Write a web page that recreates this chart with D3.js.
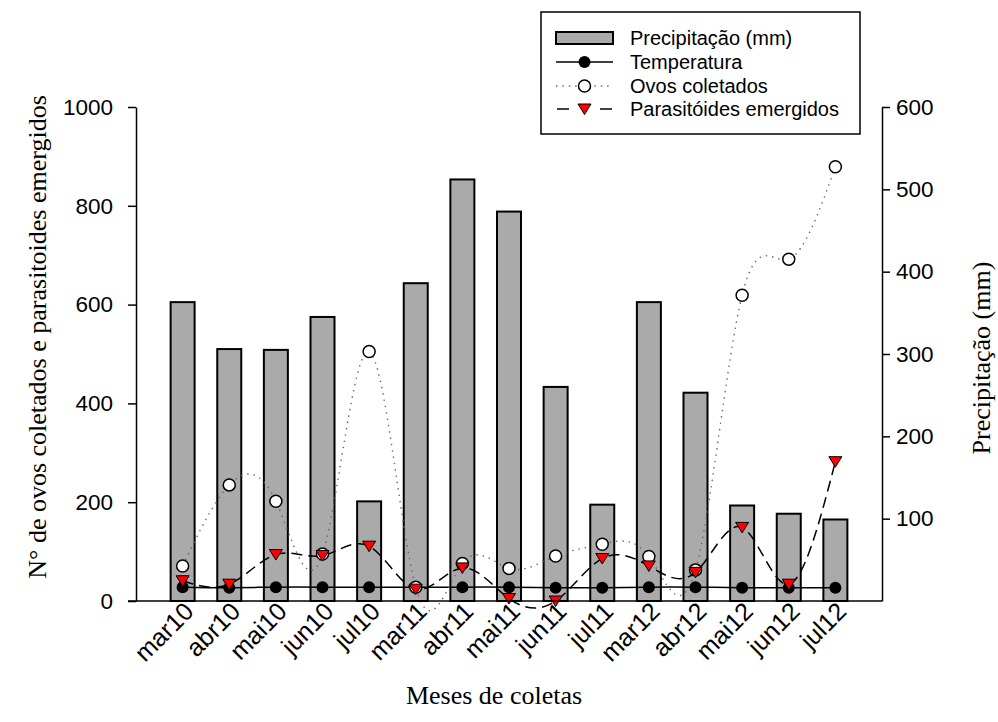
<!DOCTYPE html>
<html>
<head>
<meta charset="utf-8">
<script src="https://cdn.jsdelivr.net/npm/d3@7"></script>
<style>
  html, body { margin: 0; padding: 0; background: #fff; }
  svg { display: block; }
</style>
</head>
<body>
<script>
// ---- data ----
const months = ["mar10","abr10","mai10","jun10","jul10","mar11","abr11","mai11","jun11","jul11","mar12","abr12","mai12","jun12","jul12"];
const precipitacao = [363, 306, 305, 345, 121, 386, 512, 473, 260, 117, 363, 253, 116, 106, 99];
const temperatura  = [28, 27, 28, 28, 28, 28, 28, 28, 27, 27, 28, 28, 27, 27, 27];
const ovos         = [71, 235, 202, 95, 505, 28, 76, 66, 91, 115, 90, 63, 619, 692, 879];
const parasitoides = [41, 34, 94, 92, 111, 24, 67, 5, 0, 86, 71, 58, 149, 34, 282];
const leftTicks  = [0, 200, 400, 600, 800, 1000];
const rightTicks = [100, 200, 300, 400, 500, 600];
const legendLabels = ["Precipitação (mm)", "Temperatura", "Ovos coletados", "Parasitóides emergidos"];

const W = 998, H = 722;
const L = 136, R = 882, T = 107, B = 601;
const sans = "'Liberation Sans', Arial, sans-serif";
const serif = "'Liberation Serif', 'Times New Roman', serif";

const svg = d3.select("body").append("svg").attr("width", W).attr("height", H);

const x = d3.scalePoint().domain(months).range([L, R]).padding(1);
const yL = d3.scaleLinear().domain([0, 1000]).range([B, T]);
const yR = d3.scaleLinear().domain([0, 600]).range([B, T]);

// bars
const bw = 24;
svg.append("g").selectAll("rect").data(months).join("rect")
  .attr("x", d => x(d) - bw / 2)
  .attr("y", (d, i) => yR(precipitacao[i]))
  .attr("width", bw)
  .attr("height", (d, i) => yR(0) - yR(precipitacao[i]))
  .attr("fill", "#aaaaaa").attr("stroke", "#000").attr("stroke-width", 2);

// lines
const line = d3.line().x(d => x(d[0])).y(d => yL(d[1])).curve(d3.curveNatural);
const pts = arr => months.map((m, i) => [m, arr[i]]);

svg.append("path").datum(pts(temperatura)).attr("d", line)
  .attr("fill", "none").attr("stroke", "#000").attr("stroke-width", 1.5);
svg.append("path").datum(pts(ovos)).attr("d", line)
  .attr("fill", "none").attr("stroke", "#666").attr("stroke-width", 1.4)
  .attr("stroke-dasharray", "1.4,5");
svg.append("path").datum(pts(parasitoides)).attr("d", line)
  .attr("fill", "none").attr("stroke", "#000").attr("stroke-width", 1.5)
  .attr("stroke-dasharray", "11,6");

// markers
svg.append("g").selectAll("circle").data(pts(temperatura)).join("circle")
  .attr("cx", d => x(d[0])).attr("cy", d => yL(d[1])).attr("r", 6)
  .attr("fill", "#000");
svg.append("g").selectAll("circle").data(pts(ovos)).join("circle")
  .attr("cx", d => x(d[0])).attr("cy", d => yL(d[1])).attr("r", 6)
  .attr("fill", "#fff").attr("stroke", "#000").attr("stroke-width", 1.5);
const tri = "M-6.5,-5L6.5,-5L0,5.5Z";
svg.append("g").selectAll("path").data(pts(parasitoides)).join("path")
  .attr("d", tri)
  .attr("transform", d => `translate(${x(d[0])},${yL(d[1])})`)
  .attr("fill", "#ff0000").attr("stroke", "#000").attr("stroke-width", 1);

// axes
const gL = svg.append("g").attr("transform", `translate(${L},0)`)
  .call(d3.axisLeft(yL).tickValues(leftTicks).tickFormat(d3.format("d"))
    .tickSize(8).tickSizeOuter(0).tickPadding(15));
const gR = svg.append("g").attr("transform", `translate(${R},0)`)
  .call(d3.axisRight(yR).tickValues(rightTicks).tickFormat(d3.format("d"))
    .tickSize(8).tickSizeOuter(0).tickPadding(6));
[gL, gR].forEach(g => {
  g.selectAll("path, line").attr("stroke", "#000").attr("stroke-width", 1.5);
  g.selectAll("text").attr("font-family", sans).attr("font-size", 22.5).attr("fill", "#000");
});

// bottom axis
svg.append("line").attr("x1", L - 8).attr("x2", R).attr("y1", B).attr("y2", B)
  .attr("stroke", "#000").attr("stroke-width", 1.5);
const gB = svg.append("g").attr("transform", `translate(0,${B})`)
  .call(d3.axisBottom(x).tickSize(0).tickPadding(0));
gB.select(".domain").remove();
gB.selectAll("text")
  .attr("x", 0).attr("y", 0).attr("dy", 0)
  .attr("text-anchor", "end")
  .attr("transform", "translate(12,12) rotate(-45)")
  .attr("font-family", sans).attr("font-size", 25).attr("fill", "#000");

// titles
svg.append("text").attr("x", 494).attr("y", 704).attr("text-anchor", "middle")
  .attr("font-family", serif).attr("font-size", 26).text("Meses de coletas");
svg.append("text").attr("transform", "translate(46,337) rotate(-90)").attr("text-anchor", "middle")
  .attr("font-family", serif).attr("font-size", 26).text("N° de ovos coletados e parasitoides emergidos");
svg.append("text").attr("transform", "translate(990,358) rotate(-90)").attr("text-anchor", "middle")
  .attr("font-family", serif).attr("font-size", 26).text("Precipitação (mm)");

// legend
const lg = svg.append("g");
lg.append("rect").attr("x", 541).attr("y", 12).attr("width", 319).attr("height", 122)
  .attr("fill", "#fff").attr("stroke", "#000").attr("stroke-width", 1.5);
const rows = [38, 62, 86, 109];
const sx0 = 556, sx1 = 613, sxm = 584.5;
lg.append("rect").attr("x", sx0).attr("y", rows[0] - 6).attr("width", sx1 - sx0).attr("height", 12)
  .attr("fill", "#aaaaaa").attr("stroke", "#000").attr("stroke-width", 2);
lg.append("line").attr("x1", sx0).attr("x2", sx1).attr("y1", rows[1]).attr("y2", rows[1])
  .attr("stroke", "#000").attr("stroke-width", 1.5);
lg.append("circle").attr("cx", sxm).attr("cy", rows[1]).attr("r", 6).attr("fill", "#000");
lg.append("line").attr("x1", sx0).attr("x2", sx1).attr("y1", rows[2]).attr("y2", rows[2])
  .attr("stroke", "#666").attr("stroke-width", 1.4).attr("stroke-dasharray", "1.4,5");
lg.append("circle").attr("cx", sxm).attr("cy", rows[2]).attr("r", 6)
  .attr("fill", "#fff").attr("stroke", "#000").attr("stroke-width", 1.5);
[[557, 569], [600, 612]].forEach(([a, b]) => {
  lg.append("line").attr("x1", a).attr("x2", b).attr("y1", rows[3]).attr("y2", rows[3])
    .attr("stroke", "#000").attr("stroke-width", 1.5);
});
lg.append("path").attr("d", tri).attr("transform", `translate(${sxm},${rows[3]})`)
  .attr("fill", "#ff0000").attr("stroke", "#000").attr("stroke-width", 1);
lg.selectAll("text.lt").data(legendLabels).join("text").attr("class", "lt")
  .attr("x", 630).attr("y", (d, i) => rows[i]).attr("dy", "0.35em")
  .attr("font-family", sans).attr("font-size", 20).text(d => d);
</script>
</body>
</html>
